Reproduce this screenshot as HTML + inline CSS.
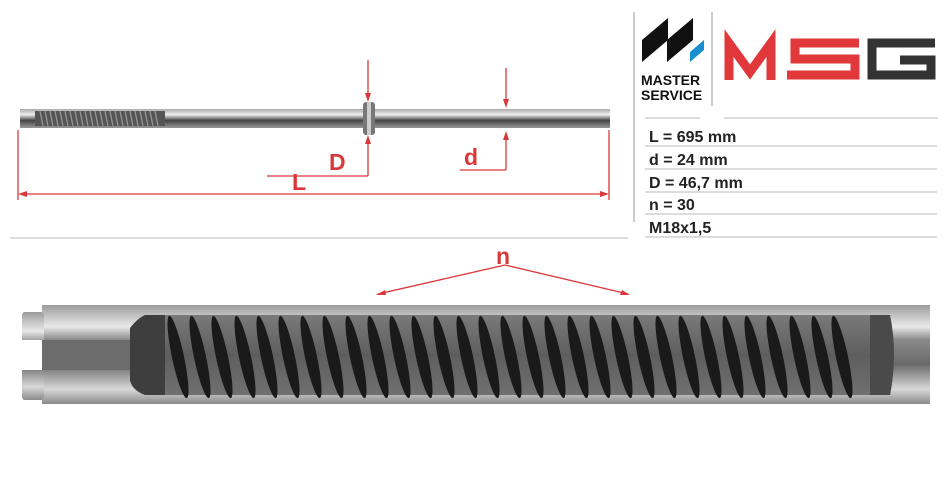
<!DOCTYPE html>
<html><head><meta charset="utf-8"><style>
body{margin:0;background:#fff;width:950px;height:475px;overflow:hidden;font-family:"Liberation Sans",sans-serif}
</style></head><body>
<svg width="950" height="475" viewBox="0 0 950 475" xmlns="http://www.w3.org/2000/svg">
<defs>
<linearGradient id="rod" x1="0" y1="0" x2="0" y2="1">
<stop offset="0" stop-color="#9a9a9a"/><stop offset="0.12" stop-color="#c8c8c8"/><stop offset="0.22" stop-color="#e8e8e8"/><stop offset="0.35" stop-color="#8a8a8a"/><stop offset="0.6" stop-color="#6a6a6a"/><stop offset="0.85" stop-color="#d8d8d8"/><stop offset="1" stop-color="#8a8a8a"/></linearGradient>
<linearGradient id="cut" x1="0" y1="0" x2="0" y2="1">
<stop offset="0" stop-color="#7a7a7a"/><stop offset="0.5" stop-color="#5e5e5e"/><stop offset="1" stop-color="#707070"/></linearGradient>
<linearGradient id="srod" x1="0" y1="0" x2="0" y2="1">
<stop offset="0" stop-color="#aaa"/><stop offset="0.3" stop-color="#eee"/><stop offset="0.6" stop-color="#444"/><stop offset="1" stop-color="#999"/></linearGradient>
</defs>
<!-- top small rod -->
<rect x="20" y="109" width="590" height="19" fill="url(#srod)"/>
<rect x="35" y="111" width="130" height="15" fill="#555"/>
<g stroke="#999" stroke-width="1.2">
<path d="M40 111l3 15M45 111l3 15M50 111l3 15M55 111l3 15M60 111l3 15M65 111l3 15M70 111l3 15M75 111l3 15M80 111l3 15M85 111l3 15M90 111l3 15M95 111l3 15M100 111l3 15M105 111l3 15M110 111l3 15M115 111l3 15M120 111l3 15M125 111l3 15M130 111l3 15M135 111l3 15M140 111l3 15M145 111l3 15M150 111l3 15M155 111l3 15"/></g>
<rect x="363" y="102" width="12" height="33" rx="3" fill="#777"/>
<rect x="367" y="102" width="4" height="33" fill="#ccc"/>
<!-- dimension lines -->
<g stroke="#d9383a" stroke-width="1.3" fill="none">
<line x1="18" y1="130" x2="18" y2="200"/><line x1="609" y1="130" x2="609" y2="200"/>
<line x1="22" y1="194" x2="606" y2="194"/>
<line x1="368" y1="60" x2="368" y2="95"/><line x1="368" y1="142" x2="368" y2="176"/><line x1="267" y1="176" x2="368" y2="176"/>
<line x1="506" y1="68" x2="506" y2="102"/><line x1="506" y1="137" x2="506" y2="170"/><line x1="460" y1="170" x2="506" y2="170"/>
<line x1="505" y1="265" x2="378" y2="294"/><line x1="505" y1="265" x2="628" y2="294"/>
</g>
<g fill="#d9383a">
<path d="M18 194l9-3v6z"/><path d="M609 194l-9-3v6z"/>
<path d="M368 102l-3-9h6z"/><path d="M368 135l-3 9h6z"/>
<path d="M506 108l-3-9h6z"/><path d="M506 131l-3 9h6z"/>
<path d="M376 295l9-5 1 5z"/><path d="M630 295l-10 0 2-5z"/>
</g>
<g fill="#d9383a" font-weight="bold" font-size="23">
<text x="292" y="190">L</text><text x="329" y="170">D</text><text x="464" y="165">d</text><text x="496" y="264">n</text>
</g>
<line x1="10" y1="238" x2="628" y2="238" stroke="#bbb"/>
<!-- big rod -->
<rect x="42" y="305" width="888" height="99" fill="url(#rod)"/>
<rect x="22" y="312" width="22" height="88" rx="3" fill="url(#rod)"/>
<rect x="20" y="340" width="26" height="30" fill="#fff"/>
<rect x="42" y="340" width="100" height="30" fill="#6c6c6c"/>
<path d="M130 328 Q138 318 145 315 L890 315 Q898 355 890 395 L145 395 Q132 390 130 380 Z" fill="url(#cut)"/>
<path d="M130 328 Q138 318 145 315 L165 315 L165 395 L145 395 Q132 390 130 380 Z" fill="#3e3e3e"/>
<path d="M870 315 L890 315 Q898 355 890 395 L870 395Z" fill="#4a4a4a"/>
<g fill="#1a1a1a">
<ellipse cx="178" cy="357" rx="6" ry="42" transform="rotate(-12 178 357)"/>
<ellipse cx="200" cy="357" rx="6" ry="42" transform="rotate(-12 200 357)"/>
<ellipse cx="222" cy="357" rx="6" ry="42" transform="rotate(-12 222 357)"/>
<ellipse cx="245" cy="357" rx="6" ry="42" transform="rotate(-12 245 357)"/>
<ellipse cx="267" cy="357" rx="6" ry="42" transform="rotate(-12 267 357)"/>
<ellipse cx="289" cy="357" rx="6" ry="42" transform="rotate(-12 289 357)"/>
<ellipse cx="311" cy="357" rx="6" ry="42" transform="rotate(-12 311 357)"/>
<ellipse cx="333" cy="357" rx="6" ry="42" transform="rotate(-12 333 357)"/>
<ellipse cx="356" cy="357" rx="6" ry="42" transform="rotate(-12 356 357)"/>
<ellipse cx="378" cy="357" rx="6" ry="42" transform="rotate(-12 378 357)"/>
<ellipse cx="400" cy="357" rx="6" ry="42" transform="rotate(-12 400 357)"/>
<ellipse cx="422" cy="357" rx="6" ry="42" transform="rotate(-12 422 357)"/>
<ellipse cx="444" cy="357" rx="6" ry="42" transform="rotate(-12 444 357)"/>
<ellipse cx="467" cy="357" rx="6" ry="42" transform="rotate(-12 467 357)"/>
<ellipse cx="489" cy="357" rx="6" ry="42" transform="rotate(-12 489 357)"/>
<ellipse cx="511" cy="357" rx="6" ry="42" transform="rotate(-12 511 357)"/>
<ellipse cx="533" cy="357" rx="6" ry="42" transform="rotate(-12 533 357)"/>
<ellipse cx="555" cy="357" rx="6" ry="42" transform="rotate(-12 555 357)"/>
<ellipse cx="578" cy="357" rx="6" ry="42" transform="rotate(-12 578 357)"/>
<ellipse cx="600" cy="357" rx="6" ry="42" transform="rotate(-12 600 357)"/>
<ellipse cx="622" cy="357" rx="6" ry="42" transform="rotate(-12 622 357)"/>
<ellipse cx="644" cy="357" rx="6" ry="42" transform="rotate(-12 644 357)"/>
<ellipse cx="666" cy="357" rx="6" ry="42" transform="rotate(-12 666 357)"/>
<ellipse cx="689" cy="357" rx="6" ry="42" transform="rotate(-12 689 357)"/>
<ellipse cx="711" cy="357" rx="6" ry="42" transform="rotate(-12 711 357)"/>
<ellipse cx="733" cy="357" rx="6" ry="42" transform="rotate(-12 733 357)"/>
<ellipse cx="755" cy="357" rx="6" ry="42" transform="rotate(-12 755 357)"/>
<ellipse cx="777" cy="357" rx="6" ry="42" transform="rotate(-12 777 357)"/>
<ellipse cx="800" cy="357" rx="6" ry="42" transform="rotate(-12 800 357)"/>
<ellipse cx="822" cy="357" rx="6" ry="42" transform="rotate(-12 822 357)"/>
<ellipse cx="842" cy="357" rx="6" ry="42" transform="rotate(-12 842 357)"/>
</g>
<!-- logo panel -->
<line x1="634" y1="12" x2="634" y2="222" stroke="#999"/>
<line x1="712" y1="12" x2="712" y2="106" stroke="#999"/>
<path d="M642 62 L642 40 L668 18 L668 40Z M667 62 L667 40 L693 18 L693 40Z" fill="#111"/>
<path d="M690 62 L690 52 L704 40 L704 50Z" fill="#1a8fd0"/>
<text x="641" y="85" font-size="14" font-weight="bold" fill="#111">MASTER</text>
<text x="641" y="100" font-size="14" font-weight="bold" fill="#111">SERVICE</text>
<g fill="none" stroke-width="9">
<path d="M729 80 L729 43 L750 72 L771 43 L771 80" stroke="#e0383b" stroke-linejoin="miter"/>
<path d="M859 43 L795 43 L795 59 L855 59 L855 75 L787 75" stroke="#e0383b" fill="none" stroke-width="9"/>
<path d="M935 43 L872 43 L872 75 L931 75 L931 60 L900 60" stroke="#333"/>
</g>
<g stroke="#bbb" stroke-width="1"><line x1="645" y1="118" x2="700" y2="118"/><line x1="724" y1="118" x2="938" y2="118"/>
<line x1="645" y1="146" x2="937" y2="146"/><line x1="645" y1="169" x2="937" y2="169"/><line x1="645" y1="192" x2="937" y2="192"/><line x1="645" y1="214" x2="937" y2="214"/><line x1="645" y1="237" x2="937" y2="237"/></g>
<g font-size="16" font-weight="bold" fill="#222">
<text x="649" y="142">L = 695 mm</text><text x="649" y="165">d = 24 mm</text><text x="649" y="188">D = 46,7 mm</text><text x="649" y="210">n = 30</text><text x="649" y="233">M18x1,5</text>
</g>
</svg>
</body></html>
